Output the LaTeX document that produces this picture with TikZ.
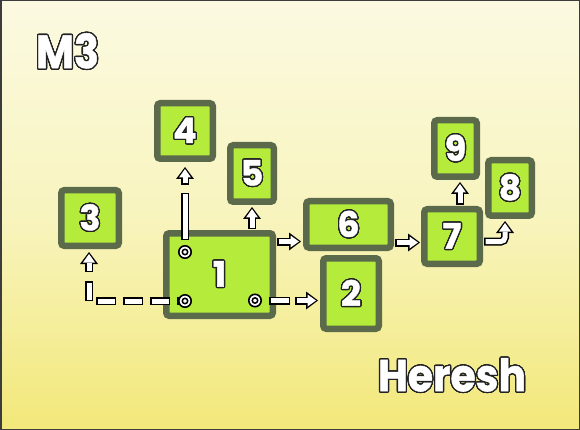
\documentclass[tikz,border=0pt]{standalone}
\usepackage{fontspec}
\setmainfont{Poppins}[BoldFeatures={FakeBold=1.2}]
\usepackage[copies]{contour}
\usetikzlibrary{arrows.meta,calc}
\contourlength{1.3pt}
\contournumber{24}
\definecolor{bgtop}{RGB}{251,250,225}
\definecolor{bgmid}{RGB}{248,244,190}
\definecolor{bgbot}{RGB}{242,232,122}
\definecolor{frame}{RGB}{60,60,60}
\definecolor{boxfill}{RGB}{181,236,60}
\definecolor{boxline}{RGB}{90,106,74}
\definecolor{txtline}{RGB}{35,35,35}
\newcommand{\dig}[1]{\contour{txtline}{#1}}
\tikzset{
  box/.style={draw=boxline, fill=boxfill, line width=6.5pt, rounded corners=3pt,
    inner sep=0pt, text=white, font=\bfseries\fontsize{35}{35}\selectfont},
  titletxt/.style={inner sep=0pt, text=white, font=\bfseries},
  ring/.style={circle, draw=black, fill=white, line width=1.6pt, minimum size=12.4pt,
    inner sep=0pt, path picture={\draw[black, line width=1.5pt]
      (path picture bounding box.center) circle (2.7pt);}},
  arr/.style={white, line width=5pt, shorten <=1.5pt, shorten >=2pt,
    -{Triangle[length=8.5pt,width=12pt,line width=0pt]},
    preaction={draw=black, line width=8pt, shorten <=0pt, shorten >=0pt,
      -{Triangle[length=12pt,width=18pt,line width=0pt]}}}
}
\begin{document}
\begin{tikzpicture}[x=1pt,y=-1pt]
\useasboundingbox (0,0) rectangle (580,430);
\fill[top color=bgtop, bottom color=bgbot, middle color=bgmid] (0,0) rectangle (580,430);
\draw[line width=1.5pt, draw=frame] (0.75,0.75) rectangle (579.25,429.25);

% boxes
\node[box, minimum width=106.5pt, minimum height=82.5pt] (b1) at (219.5,274.5) {\dig{1}};
\node[box, minimum width=55.5pt, minimum height=70.5pt] (b2) at (351,293.5) {\dig{2}};
\node[box, minimum width=57.5pt, minimum height=55.5pt] (b3) at (90,218) {\dig{3}};
\node[box, minimum width=55.5pt, minimum height=55.5pt] (b4) at (185,131) {\dig{4}};
\node[box, minimum width=43.5pt, minimum height=56.5pt] (b5) at (252,173.5) {\dig{5}};
\node[box, minimum width=84.5pt, minimum height=46.5pt] (b6) at (348.5,224.5) {\dig{6}};
\node[box, minimum width=55.5pt, minimum height=54.5pt] (b7) at (452,236.5) {\dig{7}};
\node[box, minimum width=43.5pt, minimum height=55.5pt] (b8) at (510,188) {\dig{8}};
\node[box, minimum width=42.5pt, minimum height=56.5pt] (b9) at (455.5,148.5) {\dig{9}};

% titles
\node[titletxt] (m3) at (67.5,51.5) {\contour{txtline}{\resizebox{63pt}{35pt}{M3}}};
\node[titletxt] (hr) at (452,375.5) {\contour{txtline}{\resizebox{148pt}{33pt}{Heresh}}};

% named points
\coordinate (c13) at (185,301);
\coordinate (e13) at (89,281);
\coordinate (s13) at (89,272);
\coordinate (t13) at (89,252);
\coordinate (c14) at (185,252);
\coordinate (e14) at (185,193);
\coordinate (s14) at (185,185);
\coordinate (t14) at (185,167);
\coordinate (c12) at (255,300.5);
\coordinate (e12) at (290,300.5);
\coordinate (s12) at (295,300.5);
\coordinate (t12) at (318,300.5);
\coordinate (s15) at (252,229);
\coordinate (t15) at (252,207);
\coordinate (s16) at (277,241.5);
\coordinate (t16) at (301,241.5);
\coordinate (s67) at (395,242.5);
\coordinate (t67) at (420,242.5);
\coordinate (s79) at (460,205);
\coordinate (t79) at (460,182);
\coordinate (s78) at (484,241.5);
\coordinate (t78) at (505,221);

% dashed parts
\draw[white, line width=5pt, dash pattern=on 17pt off 10pt, dash phase=10.5pt,
  preaction={draw=black, line width=8pt, dash pattern=on 20pt off 7pt, dash phase=12pt}]
  (c13) -| (e13);
\draw[white, line width=5pt, dash pattern=on 44pt off 15pt, dash phase=45.5pt,
  preaction={draw=black, line width=8pt, dash pattern=on 47pt off 12pt, dash phase=47pt}]
  (c14) -- (e14);
\draw[white, line width=5pt, dash pattern=on 18pt off 17pt, dash phase=19.5pt,
  preaction={draw=black, line width=8pt, dash pattern=on 21pt off 14pt, dash phase=21pt}]
  (c12) -- (e12);

% arrows
\draw[arr] (s13) -- (t13);
\draw[arr] (s14) -- (t14);
\draw[arr] (s12) -- (t12);
\draw[arr] (s15) -- (t15);
\draw[arr] (s16) -- (t16);
\draw[arr] (s67) -- (t67);
\draw[arr] (s79) -- (t79);
\draw[arr, rounded corners=4pt] (s78) -| (t78);

% rings
\node[ring] (r13) at (c13) {};
\node[ring] (r14) at (c14) {};
\node[ring] (r12) at (c12) {};
\end{tikzpicture}
\end{document}
